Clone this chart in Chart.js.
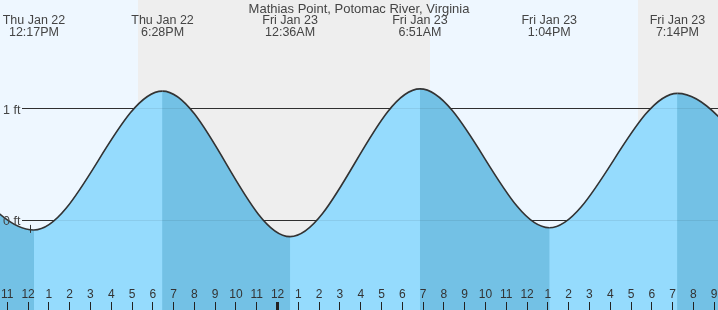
<!DOCTYPE html>
<html lang="en">
<head>
<meta charset="UTF-8">
<title>Mathias Point, Potomac River, Virginia</title>
<style>
* {
    margin: 0;
    padding: 0;
    box-sizing: border-box;
}
body {
    background: #fff;
    font-family: "Liberation Sans", Arial, sans-serif;
}
.chart-box {
    position: relative;
    width: 718px;
    height: 310px;
}
</style>
</head>
<body>
<div class="chart-box">
    <canvas id="tideChart" width="718" height="310"></canvas>
</div>
<script src="https://cdn.jsdelivr.net/npm/chart.js@4.4.0/dist/chart.umd.min.js"></script>
<script>
    var chartTitle = 'Mathias Point, Potomac River, Virginia';

    // high / low tides, first and last one fall just outside the window
    var tideDays = ['Thu Jan 22', 'Thu Jan 22', 'Thu Jan 22', 'Fri Jan 23', 'Fri Jan 23', 'Fri Jan 23', 'Fri Jan 23', 'Sat Jan 24'];
    var tideTimes = ['6:05AM', '12:17PM', '6:28PM', '12:36AM', '6:51AM', '1:04PM', '7:14PM', '1:35AM'];
    var tideFeet = [1.08, -0.09, 1.16, -0.15, 1.18, -0.07, 1.14, -0.15];

    // daylight
    var sunriseDays = ['Thu Jan 22', 'Fri Jan 23'];
    var sunriseTimes = ['7:20AM', '7:20AM'];
    var sunsetTimes = ['5:16PM', '5:19PM'];

    var nowDay = 'Thu Jan 22';
    var nowTime = '12:05PM';
    var nowFeet = -0.08;

    var viewStart = ['Thu Jan 22', '10:39AM'];
    var viewEnd = ['Fri Jan 23', '9:11PM'];
    var feetMin = -0.81;
    var feetMax = 1.98;

    var dayOffset = { 'Thu Jan 22': 0, 'Fri Jan 23': 24, 'Sat Jan 24': 48 };

    function toHours(day, time) {
        var m = time.match(/(\d+):(\d+)(AM|PM)/);
        var h = parseInt(m[1], 10) % 12 + (m[3] === 'PM' ? 12 : 0);
        return dayOffset[day] + h + parseInt(m[2], 10) / 60;
    }

    var risingColor = '#95dbfd';
    var fallingColor = '#73c1e5';
    var nightColor = '#eeeeee';
    var dayColor = '#eef7ff';
    var textColor = '#444';
    var fontName = '"Liberation Sans", Arial, sans-serif';

    var tidePoints = tideDays.map(function(d, i) {
        return { x: toHours(d, tideTimes[i]), y: tideFeet[i] };
    });

    function noPadding(s) {
        s.paddingTop = 0;
        s.paddingBottom = 0;
        s.paddingLeft = 0;
        s.paddingRight = 0;
    }

    var tidePlugin = {
        id: 'tideDecor',
        beforeDraw: function(chart) {
            var ctx = chart.ctx;
            var a = chart.chartArea;
            var xs = chart.scales.x;
            ctx.save();
            ctx.fillStyle = nightColor;
            ctx.fillRect(a.left, a.top, a.right - a.left, a.bottom - a.top);
            ctx.fillStyle = dayColor;
            sunriseDays.forEach(function(d, i) {
                var x1 = Math.round(xs.getPixelForValue(toHours(d, sunriseTimes[i])));
                var x2 = Math.round(xs.getPixelForValue(toHours(d, sunsetTimes[i])));
                ctx.fillRect(x1, a.top, x2 - x1, a.bottom - a.top);
            });
            ctx.restore();
        },
        beforeDatasetsDraw: function(chart) {
            var ctx = chart.ctx;
            var a = chart.chartArea;
            var ys = chart.scales.y;
            ctx.save();
            ctx.strokeStyle = '#333';
            ctx.lineWidth = 1;
            ys.ticks.forEach(function(t) {
                var y = Math.round(ys.getPixelForValue(t.value) - 0.5) + 0.5;
                ctx.beginPath();
                ctx.moveTo(a.left + 22, y);
                ctx.lineTo(a.right, y);
                ctx.stroke();
            });
            ctx.restore();
        },
        afterDatasetsDraw: function(chart) {
            var ctx = chart.ctx;
            var a = chart.chartArea;
            var xs = chart.scales.x;
            var ys = chart.scales.y;
            ctx.save();
            // faint level lines seen through the water
            ctx.strokeStyle = 'rgba(0, 0, 0, 0.07)';
            ctx.lineWidth = 1;
            ys.ticks.forEach(function(t) {
                var y = Math.round(ys.getPixelForValue(t.value) - 0.5) + 0.5;
                ctx.beginPath();
                ctx.moveTo(a.left + 22, y);
                ctx.lineTo(a.right, y);
                ctx.stroke();
            });
            // now marker
            var nx = Math.round(xs.getPixelForValue(toHours(nowDay, nowTime))) + 0.5;
            var ny = ys.getPixelForValue(nowFeet);
            ctx.strokeStyle = '#333';
            ctx.beginPath();
            ctx.moveTo(nx, ny - 4);
            ctx.lineTo(nx, ny + 4);
            ctx.stroke();
            ctx.restore();
        },
        afterDraw: function(chart) {
            var ctx = chart.ctx;
            var xs = chart.scales.x;
            ctx.save();
            ctx.fillStyle = textColor;
            ctx.textAlign = 'center';
            ctx.textBaseline = 'alphabetic';
            ctx.font = '13px ' + fontName;
            ctx.fillText(chartTitle, chart.width / 2, 13);
            ctx.font = '12.5px ' + fontName;
            tidePoints.forEach(function(p, i) {
                if (p.x < xs.min || p.x > xs.max) return;
                var x = xs.getPixelForValue(p.x);
                ctx.fillText(tideDays[i], x, 24);
                ctx.fillText(tideTimes[i], x, 36);
            });
            ctx.restore();
        }
    };

    var tideCtx = document.getElementById('tideChart').getContext('2d');
    var tideChart = new Chart(tideCtx, {
        type: 'line',
        data: {
            datasets: [{
                data: tidePoints,
                borderColor: '#333',
                borderWidth: 1.6,
                pointRadius: 0,
                cubicInterpolationMode: 'monotone',
                fill: 'start',
                backgroundColor: risingColor,
                segment: {
                    backgroundColor: function(c) {
                        return c.p1.parsed.y > c.p0.parsed.y ? risingColor : fallingColor;
                    }
                }
            }, {
                // plain underlay so the seams between segments do not show
                data: tidePoints,
                borderWidth: 0,
                pointRadius: 0,
                cubicInterpolationMode: 'monotone',
                fill: 'start',
                backgroundColor: fallingColor
            }]
        },
        options: {
            responsive: false,
            animation: false,
            layout: { padding: 0 },
            plugins: {
                legend: { display: false },
                tooltip: { enabled: false }
            },
            scales: {
                x: {
                    type: 'linear',
                    min: toHours(viewStart[0], viewStart[1]),
                    max: toHours(viewEnd[0], viewEnd[1]),
                    border: { display: false },
                    grid: {
                        z: 1,
                        drawOnChartArea: false,
                        drawTicks: true,
                        tickLength: -8,
                        tickColor: '#222',
                        tickWidth: function(c) {
                            return c.tick && c.tick.value % 24 === 0 ? 3 : 1;
                        }
                    },
                    ticks: {
                        z: 1,
                        stepSize: 1,
                        maxTicksLimit: 100,
                        includeBounds: false,
                        autoSkip: false,
                        maxRotation: 0,
                        mirror: true,
                        padding: 8,
                        color: '#333',
                        font: { family: fontName, size: 12 },
                        callback: function(v) {
                            return String((v % 12) || 12);
                        }
                    },
                    afterFit: function(s) {
                        s.height = 0;
                        noPadding(s);
                    }
                },
                y: {
                    min: feetMin,
                    max: feetMax,
                    border: { display: false },
                    grid: { display: false },
                    ticks: {
                        z: 1,
                        stepSize: 1,
                        includeBounds: false,
                        mirror: true,
                        padding: 3,
                        color: textColor,
                        font: { family: fontName, size: 12.5, lineHeight: '4px' },
                        callback: function(v) {
                            // empty first line nudges the label down a little
                            return ['', v + ' ft'];
                        }
                    },
                    afterFit: function(s) {
                        s.width = 0;
                        noPadding(s);
                    }
                }
            }
        },
        plugins: [tidePlugin]
    });
</script>
</body>
</html>
